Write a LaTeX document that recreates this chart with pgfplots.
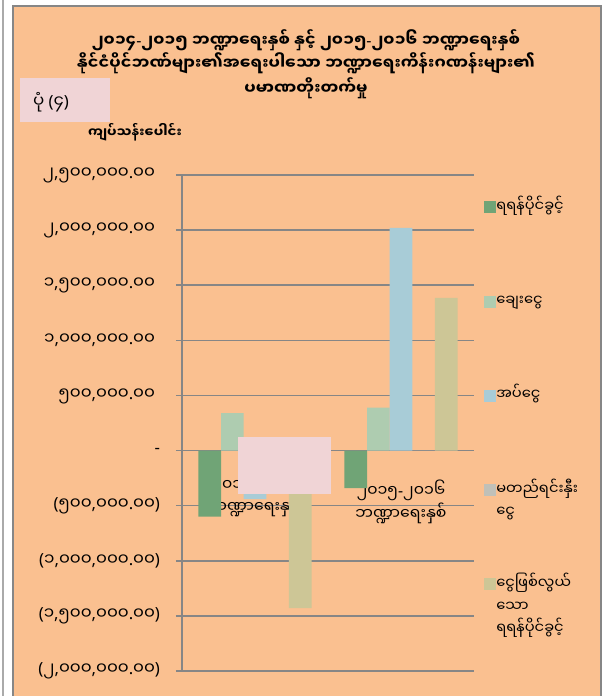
\documentclass[border=0pt]{standalone}
\usepackage{fontspec}
\setmainfont{Noto Sans}
\newfontfamily\mm[Script=Myanmar]{Noto Sans Myanmar UI}
\usepackage{pgfplots}
\pgfplotsset{compat=1.18}
\newcommand\cm{{\rmfamily,}}
\newcommand\dt{{\rmfamily.}}
\newcommand\lp{{\rmfamily(}}
\newcommand\rp{{\rmfamily)}}
\newcommand\hy{{\rmfamily-}}
\definecolor{bgor}{RGB}{250,192,144}
\definecolor{pinkb}{RGB}{240,212,214}
\definecolor{gridc}{RGB}{134,134,134}
\definecolor{c1}{RGB}{112,164,118}
\definecolor{c2}{RGB}{174,204,176}
\definecolor{c3}{RGB}{168,204,215}
\definecolor{c4}{RGB}{192,192,184}
\definecolor{c5}{RGB}{205,198,150}
\begin{document}
\begin{tikzpicture}
\begin{scope}[x=0.75pt,y=0.75pt]
\fill[white] (0,0) rectangle (604,696);
\fill[gridc!70] (2,0) rectangle (4,696);
\fill[bgor] (12,0) rectangle (602,691);
\draw[gridc, line width=1.5pt] (13,0) -- (13,690) -- (601,690) -- (601,0);
\node[font=\mm\bfseries\fontsize{12}{14}\selectfont] at (306,656) {၂၀၁၄\hy{}၂၀၁၅ ဘဏ္ဍာရေးနှစ် နှင့် ၂၀၁၅\hy{}၂၀၁၆ ဘဏ္ဍာရေးနှစ်};
\node[font=\mm\bfseries\fontsize{12}{14}\selectfont] at (306,633) {နိုင်ငံပိုင်ဘဏ်များ၏အရေးပါသော ဘဏ္ဍာရေးကိန်းဂဏန်းများ၏};
\node[font=\mm\bfseries\fontsize{12}{14}\selectfont] at (306,608) {ပမာဏတိုးတက်မှု};
\fill[pinkb] (20,574) rectangle (110,618);
\node[font=\mm\fontsize{12.5}{15}\selectfont] at (51,594) {ပုံ \lp{}၄\rp{}};
\node[font=\mm\bfseries\fontsize{10}{12}\selectfont] at (135,564) {ကျပ်သန်းပေါင်း};
\end{scope}
\begin{axis}[
  at={(136.5pt,18.75pt)}, anchor=south west,
  scale only axis, width=219pt, height=372pt,
  xmin=-0.5, xmax=1.5, ymin=-2000000, ymax=2500000,
  enlarge y limits=false,
  axis x line=middle, axis y line=left,
  axis line style={-, draw=gridc, line width=1.1pt},
  ybar=0pt, bar width=16.95pt,
  xtick={0,1},
  xticklabels={{၂၀၁၄\hy{}၂၀၁၅\\ဘဏ္ဍာရေးနှစ်},{၂၀၁၅\hy{}၂၀၁၆\\ဘဏ္ဍာရေးနှစ်}},
  xtick style={draw=none},
  xticklabel style={align=center, font=\mm\fontsize{11.8}{17}\selectfont, yshift=-14pt},
  ytick={-2000000,-1500000,-1000000,-500000,0,500000,1000000,1500000,2000000,2500000},
  yticklabels={{\lp{}၂\cm{}၀၀၀\cm{}၀၀၀\dt{}၀၀\rp{}},{\lp{}၁\cm{}၅၀၀\cm{}၀၀၀\dt{}၀၀\rp{}},{\lp{}၁\cm{}၀၀၀\cm{}၀၀၀\dt{}၀၀\rp{}},{\lp{}၅၀၀\cm{}၀၀၀\dt{}၀၀\rp{}},{\hy\hspace{13pt}},{၅၀၀\cm{}၀၀၀\dt{}၀၀\phantom{\rp}},{၁\cm{}၀၀၀\cm{}၀၀၀\dt{}၀၀\phantom{\rp}},{၁\cm{}၅၀၀\cm{}၀၀၀\dt{}၀၀\phantom{\rp}},{၂\cm{}၀၀၀\cm{}၀၀၀\dt{}၀၀\phantom{\rp}},{၂\cm{}၅၀၀\cm{}၀၀၀\dt{}၀၀\phantom{\rp}}},
  yticklabel style={font=\mm\fontsize{12.5}{14}\selectfont, xshift=-8.5pt},
  ymajorgrids, grid style={draw=gridc, line width=1.1pt},
  ytick style={draw=gridc, line width=1.1pt}, tick align=outside, major tick length=4.5pt,
  scaled y ticks=false,
  clip=false,
  legend image code/.code={\fill[#1] (0pt,-1.5pt) rectangle (9pt,7.5pt);},
  legend cell align=left,
  legend style={draw=none, fill=none, at={(1.0342,0.9516)}, anchor=north west, inner sep=0pt, row sep=6.7pt,
    nodes={font=\mm\fontsize{11}{17}\selectfont, text width=75pt, align=left, text height=9pt, text depth=55pt, inner sep=0pt, anchor=base west},
    /tikz/every even column/.style={column sep=4pt}},
]
\addplot[fill=c1, draw=none] coordinates {(0,-600000) (1,-340000)};
\addplot[fill=c2, draw=none] coordinates {(0,340000) (1,390000)};
\addplot[fill=c3, draw=none] coordinates {(0,-440000) (1,2020000)};
\addplot[fill=c4, draw=none] coordinates {(0,0) (1,0)};
\addplot[fill=c5, draw=none] coordinates {(0,-1430000) (1,1385000)};
\legend{ရရန်ပိုင်ခွင့်, ချေးငွေ, အပ်ငွေ, {မတည်ရင်းနှီး\\ငွေ}, {ငွေဖြစ်လွယ်\\သော\\ရရန်ပိုင်ခွင့်}}
\end{axis}
\begin{scope}[x=0.75pt,y=0.75pt]
\fill[pinkb] (238,202) rectangle (331,259);
\end{scope}
\pgfresetboundingbox
\path (0,0) rectangle (453pt,522pt);
\end{tikzpicture}
\end{document}
